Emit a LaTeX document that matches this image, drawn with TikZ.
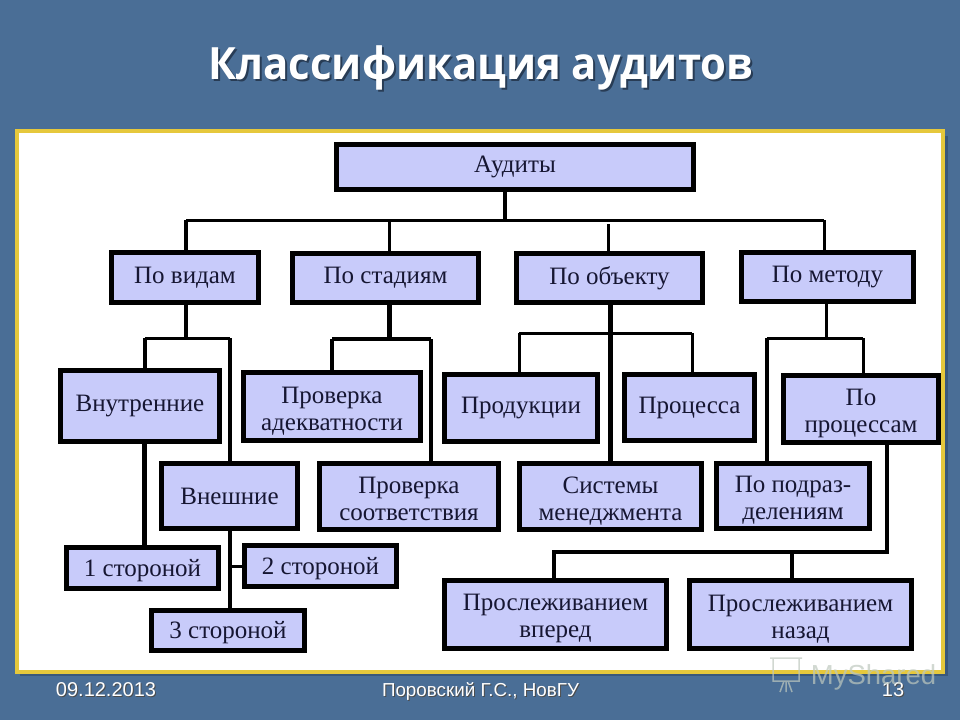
\documentclass[tikz,border=0pt]{standalone}
\usepackage{fontspec}
\setmainfont{Liberation Serif}
\setsansfont{Liberation Sans}
\newfontfamily\headfont[FakeStretch=0.94]{Open Sans}
\usepackage{xcolor}
\definecolor{slideblue}{RGB}{74,110,150}
\definecolor{slidedark}{RGB}{58,88,122}
\definecolor{titleshadow}{RGB}{40,60,85}
\definecolor{framegold}{RGB}{230,200,60}
\definecolor{boxfill}{RGB}{200,203,250}
\definecolor{boxtext}{RGB}{22,22,50}
\definecolor{markgray}{RGB}{190,200,190}
\newcommand{\lift}{\rule{0pt}{25pt}}
\newcommand{\liftsmall}{\rule{0pt}{22pt}}

\begin{document}
\begin{tikzpicture}[
    x=1pt,y=-1pt,
    block/.style={rectangle,draw=black,fill=boxfill,line width=5pt,inner sep=0pt,align=center,text=boxtext,
      font=\fontsize{25}{27}\selectfont},
    wire/.style={draw=black,line width=#1pt},
    wire/.default=3,
    heading/.style={font=\headfont\bfseries\fontsize{44.5}{50}\selectfont,inner sep=0pt},
    foot/.style={font=\sffamily\fontsize{20}{24}\selectfont,inner sep=0pt,anchor=base},
    footname/.style={foot,font=\sffamily\fontsize{18.8}{24}\selectfont}
  ]
  \useasboundingbox (0,0) rectangle (960,720);
  \fill[slideblue] (0,0) rectangle (960,720);

  % Frame
  \fill[slidedark] (20,136) rectangle (948,676);
  \node[rectangle,draw=framegold,fill=white,line width=4pt,minimum width=926pt,minimum height=541pt,inner sep=0pt] (panel) at (480,401.5) {};

  % Title and footer
  \node[heading,text=titleshadow] (titleshade) at (483,70) {Классификация аудитов};
  \node[heading,text=white] (title) at (481,68) {Классификация аудитов};
  \node[foot,text=black!70] (dateshade) at (107,697) {09.12.2013};
  \node[foot,text=white] (date) at (106,696) {09.12.2013};
  \node[footname,text=black!70] (authorshade) at (481.5,697) {Поровский Г.С., НовГУ};
  \node[footname,text=white] (author) at (480.5,696) {Поровский Г.С., НовГУ};
  \node[foot,text=black!70] (pageshade) at (894,697) {13};
  \node[foot,text=white] (page) at (893,696) {13};

  % Blocks
  \node[block,minimum width=357pt,minimum height=45pt] (audits) at (515,167) {Аудиты};
  \node[block,minimum width=147pt,minimum height=50pt] (vidy) at (185,277.5) {По видам};
  \node[block,minimum width=186pt,minimum height=49pt] (stadii) at (385.5,278) {По стадиям};
  \node[block,minimum width=186pt,minimum height=49pt] (obekt) at (609.5,278) {По объекту};
  \node[block,minimum width=172pt,minimum height=49pt] (metod) at (827.5,277) {По методу};
  \node[block,minimum width=159pt,minimum height=71pt] (vnutr) at (140,406) {Внутренние};
  \node[block,minimum width=177pt,minimum height=68pt] (adekv) at (332,406.5) {\lift Проверка\\адекватности};
  \node[block,minimum width=153pt,minimum height=67pt] (prod) at (521,408) {Продукции};
  \node[block,minimum width=130pt,minimum height=66pt] (proc) at (689.5,407.5) {Процесса};
  \node[block,minimum width=155pt,minimum height=67pt] (poproc) at (861,409) {\lift По\\процессам};
  \node[block,minimum width=136pt,minimum height=65pt] (vnesh) at (229.5,496) {Внешние};
  \node[block,minimum width=179pt,minimum height=66pt] (sootv) at (409,496.5) {\liftsmall Проверка\\соответствия};
  \node[block,minimum width=182pt,minimum height=66pt] (sist) at (610.5,496.5) {\lift Системы\\менеджмента};
  \node[block,minimum width=153pt,minimum height=65pt] (podr) at (793,496) {\lift По подраз-\\делениям};
  \node[block,minimum width=152pt,minimum height=41pt] (side1) at (142.5,568) {\liftsmall 1 стороной};
  \node[block,minimum width=152pt,minimum height=41pt] (side2) at (320.5,566) {\liftsmall 2 стороной};
  \node[block,minimum width=153pt,minimum height=40pt] (side3) at (228,630.5) {\liftsmall 3 стороной};
  \node[block,minimum width=222pt,minimum height=68pt] (vpered) at (555.5,614.5) {\lift Прослеживанием\\вперед};
  \node[block,minimum width=222pt,minimum height=68pt] (nazad) at (800.5,614.5) {\lift Прослеживанием\\назад};

  % Junctions
  \coordinate (topbus) at (505,220);
  \coordinate (busvidy) at (186,220);
  \coordinate (busstad) at (389,220);
  \coordinate (busobj) at (608,224);
  \coordinate (busmet) at (824,220);
  \coordinate (vidyj) at (186,338);
  \coordinate (vidyl) at (145,338);
  \coordinate (vidyr) at (230,338);
  \coordinate (stadj) at (389,339);
  \coordinate (stadl) at (332,339);
  \coordinate (stadr) at (431,339);
  \coordinate (objj) at (610,333);
  \coordinate (objl) at (519,333);
  \coordinate (objr) at (692,333);
  \coordinate (metj) at (826,338);
  \coordinate (metl) at (767,338);
  \coordinate (metr) at (863,338);
  \coordinate (tracej) at (887,552);
  \coordinate (tracel) at (554,552);
  \coordinate (tracem) at (792,552);
  \coordinate (side1j) at (144,500);
  \coordinate (side3j) at (229.5,566);

  % Links
  \draw[wire=3.5] (audits.south -| topbus) -- (topbus);
  \draw[wire=3] (busvidy) -- (busmet);
  \draw[wire=4] (busvidy) -- (busvidy |- vidy.north);
  \draw[wire] (busstad) -- (busstad |- stadii.north);
  \draw[wire] (busobj) -- (busobj |- obekt.north);
  \draw[wire] (busmet) -- (busmet |- metod.north);

  \draw[wire=4] (vidy.south -| vidyj) -- (vidyj);
  \draw[wire] (vidyl) -- (vidyr);
  \draw[wire=3.5] (vidyl) -- (vidyl |- vnutr.north);
  \draw[wire=3.5] (vidyr) -- (vidyr |- vnesh.north);
  \draw[wire=5] (side1j |- vnutr.south) -- (side1j |- side1.north);
  \draw[wire=4] (side3j |- vnesh.south) -- (side3j |- side3.north);
  \draw[wire] (side3j) -- (side3j -| side2.west);

  \draw[wire=5] (stadii.south -| stadj) -- (stadj);
  \draw[wire=4] (stadl) -- (stadr);
  \draw[wire=4] (stadl) -- (stadl |- adekv.north);
  \draw[wire=4] (stadr) -- (stadr |- sootv.north);

  \draw[wire=5] (objj |- obekt.south) -- (objj |- sist.north);
  \draw[wire] (objl) -- (objr);
  \draw[wire] (objl) -- (objl |- prod.north);
  \draw[wire] (objr) -- (objr |- proc.north);

  \draw[wire] (metod.south -| metj) -- (metj);
  \draw[wire] (metl) -- (metr);
  \draw[wire=4] (metl) -- (metl |- podr.north);
  \draw[wire] (metr) -- (metr |- poproc.north);

  \draw[wire=4] (tracej |- poproc.south) -- (tracej) -- (tracel) -- (tracel |- vpered.north);
  \draw[wire=4] (tracem) -- (tracem |- nazad.north);

  % Watermark
  \node[inner sep=0pt,font=\sffamily\fontsize{27.5}{30}\selectfont,text=markgray,opacity=0.7] (mark) at (873.5,677) {MyShared};
  \draw[markgray,opacity=0.7,line width=1.5pt] (770,658) -- (802,658) (773,658) rectangle (799,681) (780,692) -- (784,681) (792,692) -- (788,681) (786,692) -- (786,681);
\end{tikzpicture}
\end{document}
